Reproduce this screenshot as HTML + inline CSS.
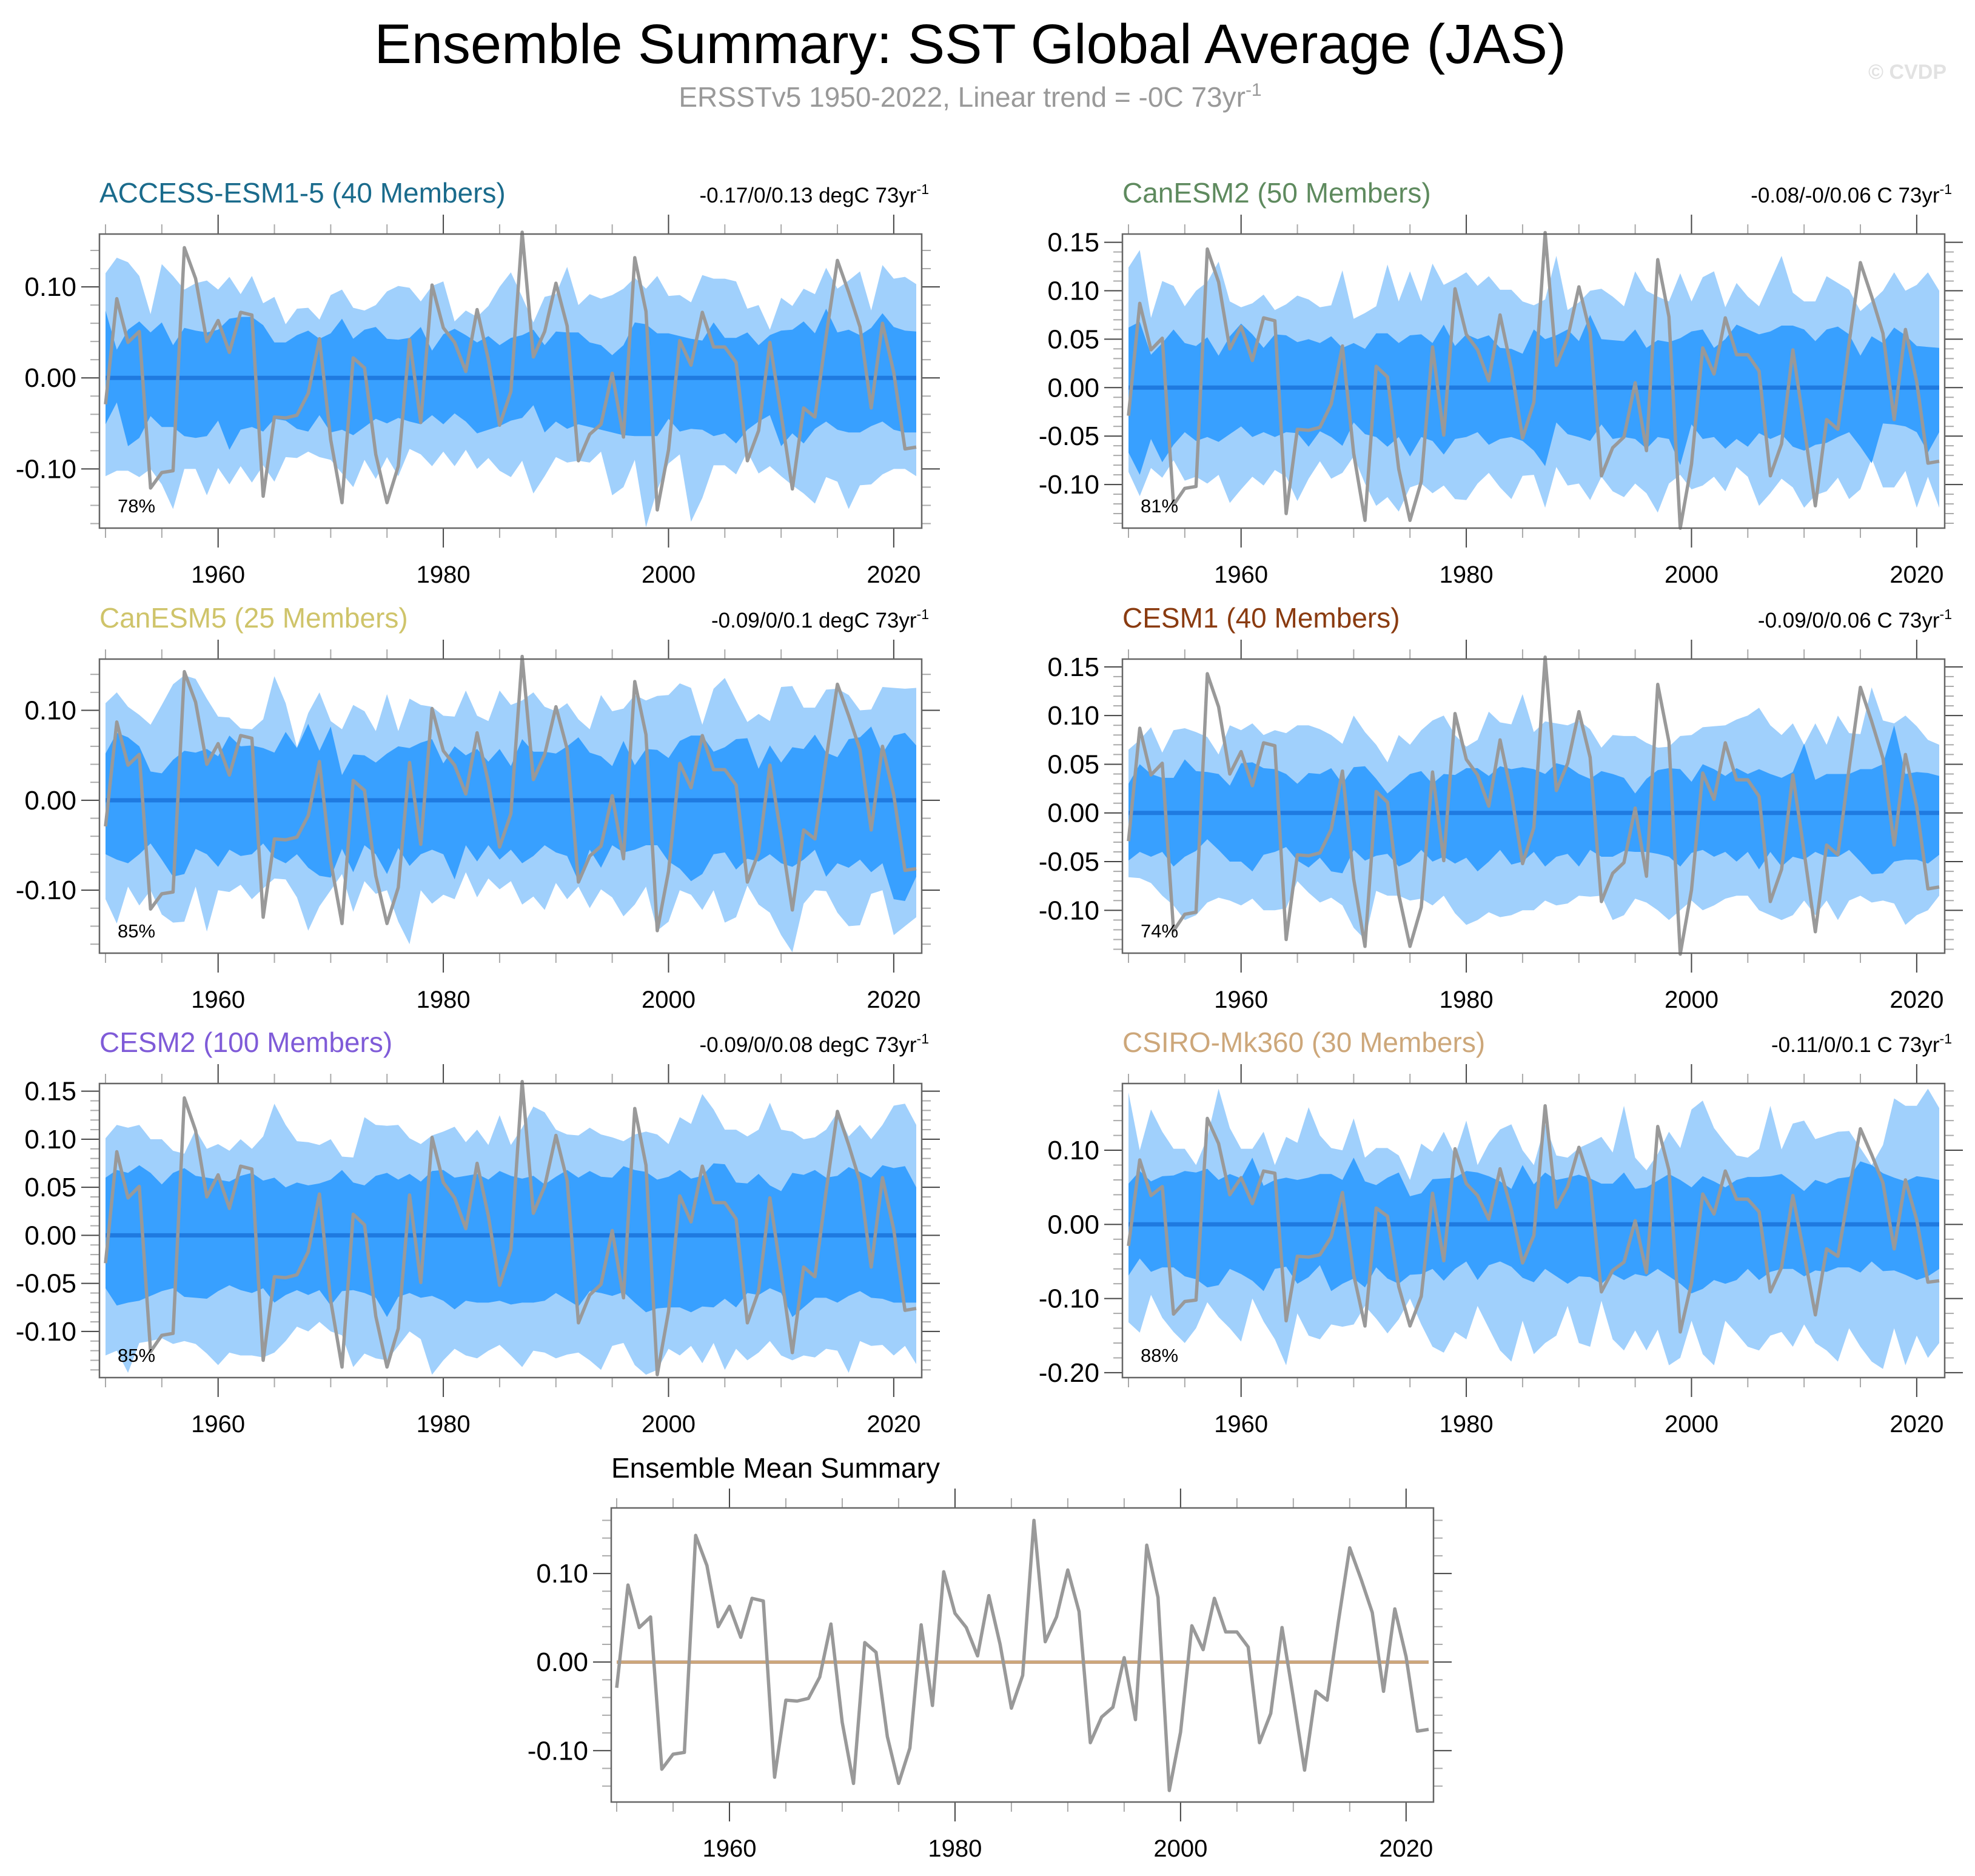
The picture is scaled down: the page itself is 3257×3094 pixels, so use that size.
<!DOCTYPE html>
<html><head><meta charset="utf-8"><title>Ensemble Summary: SST Global Average (JAS)</title>
<style>
html,body{margin:0;padding:0;background:#fff;}
svg{display:block;font-family:"Liberation Sans",Arial,sans-serif;}
</style></head>
<body>
<svg id="chart" xmlns="http://www.w3.org/2000/svg" width="3257" height="3094" viewBox="0 0 3257 3094">
<rect x="0" y="0" width="3257" height="3094" fill="#fff"/>
<text x="1600" y="104" font-size="92" text-anchor="middle" fill="#000">Ensemble Summary: SST Global Average (JAS)</text>
<text x="1600" y="176" font-size="46" text-anchor="middle" fill="#999">ERSSTv5 1950-2022, Linear trend = -0C 73yr<tspan dy="-18" font-size="30">-1</tspan></text>
<text x="3210" y="130" font-size="34" font-weight="bold" text-anchor="end" fill="#e2e2e2">© CVDP</text>
<g id="panels"></g>
</svg>
<script>
// ---- data ----
const startYear = 1950;
const observed = [-0.029,0.087,0.039,0.051,-0.121,-0.104,-0.102,0.143,0.109,0.040,0.063,0.028,0.072,0.069,-0.130,-0.043,-0.044,-0.041,-0.017,0.043,-0.068,-0.137,0.022,0.011,-0.084,-0.137,-0.097,0.042,-0.049,0.102,0.055,0.039,0.007,0.075,0.020,-0.052,-0.015,0.160,0.023,0.051,0.104,0.057,-0.091,-0.062,-0.051,0.005,-0.065,0.132,0.073,-0.145,-0.079,0.041,0.014,0.072,0.034,0.034,0.017,-0.091,-0.058,0.039,-0.040,-0.122,-0.033,-0.043,0.046,0.129,0.094,0.056,-0.033,0.060,0.006,-0.078,-0.076];
const ensMean = [0,0,0,0,0,0,0,0,0,0,0,0,0,0,0,0,0,0,0,0,0,0,0,0,0,0,0,0,0,0,0,0,0,0,0,0,0,0,0,0,0,0,0,0,0,0,0,0,0,0,0,0,0,0,0,0,0,0,0,0,0,0,0,0,0,0,0,0,0,0,0,0,0];
const xTickLabels = [1960,1980,2000,2020];

const accessLightUpper = [.115,.132,.127,.112,.070,.125,.112,.097,.104,.107,.097,.111,.092,.112,.082,.089,.059,.076,.077,.064,.091,.097,.077,.074,.080,.095,.101,.099,.084,.101,.106,.062,.074,.067,.079,.100,.116,.089,.061,.089,.092,.122,.080,.092,.087,.091,.098,.110,.098,.112,.090,.091,.083,.113,.109,.109,.106,.076,.080,.053,.088,.079,.098,.092,.121,.098,.107,.117,.074,.124,.109,.111,.103];
const accessDarkUpper = [.074,.031,.053,.062,.050,.061,.036,.055,.052,.050,.053,.065,.067,.067,.058,.039,.039,.047,.052,.043,.049,.065,.043,.053,.056,.043,.042,.044,.056,.030,.048,.054,.047,.039,.046,.036,.044,.047,.053,.036,.051,.050,.050,.039,.036,.025,.036,.061,.059,.049,.049,.046,.043,.041,.061,.044,.044,.050,.036,.047,.052,.053,.062,.049,.076,.050,.053,.047,.055,.071,.056,.052,.051];
const accessDarkLower = [-.051,-.027,-.075,-.066,-.042,-.054,-.054,-.064,-.066,-.064,-.047,-.079,-.057,-.054,-.059,-.045,-.047,-.056,-.059,-.041,-.060,-.057,-.063,-.054,-.045,-.050,-.044,-.048,-.051,-.041,-.051,-.039,-.048,-.061,-.057,-.053,-.047,-.044,-.030,-.060,-.048,-.056,-.051,-.054,-.057,-.060,-.063,-.064,-.064,-.064,-.045,-.059,-.056,-.057,-.064,-.061,-.072,-.057,-.048,-.041,-.075,-.061,-.072,-.056,-.048,-.057,-.060,-.060,-.053,-.048,-.057,-.060,-.060];
const accessLightLower = [-.108,-.102,-.102,-.109,-.100,-.117,-.144,-.100,-.100,-.129,-.099,-.117,-.097,-.115,-.096,-.114,-.087,-.088,-.081,-.087,-.090,-.105,-.120,-.090,-.111,-.087,-.108,-.078,-.084,-.097,-.081,-.097,-.079,-.100,-.088,-.102,-.109,-.091,-.127,-.108,-.087,-.093,-.091,-.093,-.081,-.129,-.120,-.090,-.164,-.123,-.094,-.084,-.158,-.132,-.096,-.096,-.106,-.081,-.105,-.097,-.108,-.118,-.127,-.138,-.109,-.114,-.144,-.118,-.117,-.106,-.100,-.100,-.108];

const canesm2LightUpper = [.124,.142,.072,.110,.105,.084,.100,.109,.130,.089,.083,.087,.096,.080,.086,.095,.091,.083,.085,.121,.071,.077,.084,.127,.089,.120,.089,.128,.106,.112,.119,.105,.115,.101,.101,.089,.085,.091,.136,.080,.088,.100,.102,.094,.084,.120,.100,.094,.089,.118,.089,.114,.120,.083,.108,.094,.084,.110,.136,.098,.089,.089,.115,.108,.101,.079,.089,.100,.119,.100,.106,.119,.100];
const canesm2DarkUpper = [.062,.068,.034,.046,.060,.046,.043,.052,.033,.053,.066,.055,.041,.055,.054,.047,.050,.046,.053,.041,.046,.040,.056,.056,.046,.054,.055,.046,.065,.043,.055,.050,.054,.041,.040,.035,.060,.050,.054,.060,.048,.075,.050,.049,.048,.060,.041,.049,.047,.051,.058,.060,.041,.050,.065,.060,.055,.058,.064,.064,.060,.048,.060,.063,.055,.033,.053,.046,.062,.054,.043,.042,.041];
const canesm2DarkLower = [-.067,-.090,-.053,-.077,-.059,-.046,-.055,-.051,-.056,-.048,-.040,-.051,-.046,-.051,-.046,-.047,-.061,-.045,-.051,-.060,-.036,-.048,-.051,-.061,-.051,-.071,-.051,-.055,-.069,-.053,-.051,-.046,-.059,-.053,-.051,-.055,-.065,-.081,-.036,-.048,-.051,-.055,-.038,-.053,-.051,-.053,-.063,-.051,-.053,-.080,-.038,-.053,-.051,-.063,-.053,-.061,-.047,-.053,-.048,-.061,-.065,-.059,-.057,-.051,-.046,-.061,-.078,-.037,-.038,-.040,-.046,-.067,-.046];
const canesm2LightLower = [-.087,-.112,-.083,-.093,-.075,-.096,-.092,-.099,-.090,-.119,-.105,-.092,-.101,-.085,-.092,-.117,-.094,-.076,-.094,-.088,-.071,-.099,-.122,-.113,-.128,-.103,-.099,-.109,-.101,-.115,-.116,-.099,-.088,-.103,-.115,-.091,-.090,-.124,-.082,-.101,-.099,-.116,-.092,-.107,-.113,-.099,-.109,-.129,-.099,-.090,-.105,-.101,-.092,-.107,-.082,-.092,-.122,-.109,-.094,-.103,-.124,-.111,-.107,-.093,-.115,-.105,-.073,-.103,-.103,-.086,-.124,-.092,-.124];

const canesm5LightUpper = [.108,.120,.104,.095,.084,.106,.129,.139,.135,.113,.093,.092,.080,.079,.090,.138,.108,.059,.097,.120,.088,.079,.106,.099,.077,.118,.077,.113,.106,.104,.094,.093,.122,.094,.088,.122,.106,.111,.120,.104,.099,.108,.090,.079,.117,.099,.102,.117,.111,.116,.117,.130,.125,.084,.124,.136,.111,.087,.096,.088,.126,.127,.103,.103,.123,.124,.117,.100,.101,.126,.125,.124,.125];
const canesm5DarkUpper = [.052,.075,.070,.060,.032,.030,.045,.055,.053,.057,.049,.072,.060,.061,.058,.053,.076,.058,.085,.055,.082,.028,.051,.050,.042,.052,.060,.058,.064,.068,.041,.060,.050,.057,.043,.057,.038,.068,.054,.054,.052,.060,.070,.053,.049,.038,.066,.039,.057,.056,.047,.066,.072,.072,.054,.059,.068,.069,.035,.061,.042,.059,.057,.073,.053,.048,.068,.070,.082,.052,.072,.075,.061];
const canesm5DarkLower = [-.060,-.066,-.070,-.060,-.048,-.066,-.085,-.082,-.054,-.060,-.074,-.055,-.062,-.060,-.048,-.064,-.070,-.060,-.075,-.084,-.086,-.054,-.080,-.050,-.060,-.082,-.053,-.073,-.060,-.055,-.060,-.088,-.050,-.068,-.050,-.066,-.055,-.070,-.062,-.050,-.058,-.062,-.090,-.055,-.075,-.050,-.058,-.055,-.050,-.050,-.068,-.076,-.090,-.082,-.060,-.058,-.077,-.065,-.068,-.060,-.070,-.074,-.066,-.055,-.085,-.070,-.075,-.066,-.080,-.070,-.110,-.112,-.085];
const canesm5LightLower = [-.110,-.137,-.096,-.117,-.100,-.127,-.136,-.135,-.096,-.146,-.100,-.102,-.094,-.110,-.098,-.087,-.088,-.108,-.145,-.118,-.100,-.082,-.124,-.090,-.104,-.100,-.135,-.160,-.100,-.115,-.105,-.110,-.080,-.108,-.087,-.099,-.090,-.116,-.107,-.122,-.092,-.110,-.096,-.120,-.099,-.108,-.129,-.116,-.096,-.145,-.135,-.100,-.105,-.122,-.100,-.136,-.130,-.095,-.116,-.125,-.150,-.169,-.115,-.100,-.101,-.125,-.140,-.139,-.104,-.100,-.150,-.140,-.130];

const cesm1LightUpper = [.065,.075,.088,.062,.085,.087,.083,.078,.060,.090,.085,.092,.080,.085,.082,.090,.090,.086,.080,.071,.100,.083,.070,.052,.080,.070,.085,.095,.100,.080,.068,.075,.104,.093,.091,.122,.083,.094,.092,.090,.095,.086,.067,.080,.079,.079,.072,.067,.068,.079,.080,.088,.089,.090,.096,.100,.108,.090,.080,.092,.070,.092,.070,.100,.082,.081,.129,.095,.092,.100,.089,.075,.070];
const cesm1DarkUpper = [.030,.050,.040,.036,.036,.055,.043,.042,.040,.028,.051,.052,.046,.045,.040,.030,.041,.040,.046,.030,.047,.048,.035,.020,.030,.040,.043,.030,.040,.039,.046,.046,.038,.048,.045,.047,.045,.040,.051,.048,.040,.035,.043,.040,.036,.020,.035,.044,.046,.045,.032,.050,.045,.038,.046,.040,.045,.040,.036,.042,.071,.034,.040,.040,.040,.045,.045,.050,.090,.040,.042,.041,.038];
const cesm1DarkLower = [-.049,-.040,-.045,-.040,-.055,-.045,-.039,-.027,-.038,-.050,-.050,-.060,-.043,-.040,-.035,-.049,-.056,-.046,-.060,-.062,-.038,-.049,-.044,-.042,-.055,-.050,-.038,-.050,-.045,-.052,-.046,-.060,-.050,-.038,-.053,-.050,-.040,-.055,-.045,-.042,-.055,-.038,-.045,-.045,-.039,-.040,-.040,-.042,-.045,-.055,-.041,-.038,-.045,-.040,-.050,-.040,-.058,-.040,-.055,-.045,-.048,-.040,-.045,-.045,-.038,-.050,-.063,-.062,-.050,-.048,-.048,-.052,-.043];
const cesm1LightLower = [-.066,-.067,-.072,-.085,-.095,-.110,-.105,-.092,-.087,-.090,-.095,-.088,-.100,-.100,-.098,-.070,-.082,-.092,-.087,-.095,-.118,-.130,-.080,-.085,-.085,-.090,-.088,-.095,-.085,-.103,-.115,-.110,-.102,-.107,-.105,-.100,-.100,-.090,-.095,-.093,-.085,-.086,-.085,-.110,-.105,-.088,-.092,-.100,-.110,-.100,-.090,-.100,-.095,-.088,-.085,-.085,-.100,-.105,-.110,-.105,-.090,-.105,-.090,-.110,-.090,-.085,-.092,-.090,-.093,-.115,-.105,-.100,-.085];

const cesm2LightUpper = [.101,.115,.112,.115,.100,.100,.088,.085,.110,.090,.095,.088,.100,.090,.103,.137,.115,.098,.097,.094,.100,.082,.081,.123,.115,.114,.115,.101,.095,.104,.108,.113,.097,.110,.094,.125,.094,.112,.134,.128,.110,.105,.104,.112,.105,.102,.098,.105,.108,.105,.095,.123,.116,.147,.131,.110,.110,.103,.110,.138,.110,.108,.100,.102,.110,.128,.103,.115,.100,.115,.135,.137,.115];
const cesm2DarkUpper = [.060,.068,.065,.073,.065,.053,.065,.070,.062,.060,.058,.056,.062,.065,.057,.060,.050,.055,.052,.054,.058,.068,.055,.052,.062,.065,.058,.064,.056,.067,.068,.060,.062,.064,.058,.067,.062,.059,.062,.053,.061,.068,.060,.067,.061,.060,.072,.068,.066,.058,.061,.068,.059,.062,.075,.074,.055,.054,.064,.052,.046,.065,.063,.068,.060,.062,.071,.066,.060,.073,.070,.072,.050];
const cesm2DarkLower = [-.055,-.073,-.070,-.068,-.063,-.058,-.055,-.064,-.065,-.066,-.058,-.052,-.057,-.060,-.055,-.070,-.062,-.057,-.062,-.057,-.073,-.058,-.057,-.060,-.065,-.085,-.064,-.060,-.065,-.063,-.068,-.077,-.068,-.070,-.070,-.068,-.072,-.070,-.070,-.068,-.060,-.067,-.074,-.058,-.060,-.063,-.059,-.070,-.080,-.076,-.075,-.075,-.080,-.074,-.075,-.066,-.075,-.060,-.062,-.055,-.060,-.085,-.075,-.065,-.065,-.070,-.063,-.058,-.065,-.066,-.070,-.070,-.070];
const cesm2LightLower = [-.125,-.120,-.143,-.112,-.110,-.107,-.113,-.110,-.113,-.123,-.135,-.122,-.125,-.125,-.127,-.122,-.110,-.095,-.100,-.090,-.100,-.104,-.137,-.123,-.128,-.130,-.115,-.100,-.108,-.145,-.130,-.118,-.125,-.128,-.120,-.114,-.125,-.137,-.120,-.122,-.128,-.124,-.122,-.130,-.140,-.115,-.112,-.135,-.145,-.140,-.118,-.125,-.115,-.133,-.112,-.140,-.118,-.130,-.122,-.110,-.125,-.130,-.125,-.127,-.118,-.120,-.143,-.110,-.115,-.114,-.125,-.115,-.134];

const csiroLightUpper = [.178,.100,.155,.125,.102,.102,.080,.117,.183,.130,.102,.102,.125,.080,.118,.110,.158,.120,.103,.100,.143,.090,.103,.103,.093,.060,.109,.098,.125,.093,.140,.080,.109,.128,.135,.100,.080,.135,.093,.090,.103,.110,.118,.097,.160,.090,.073,.095,.125,.103,.155,.167,.130,.110,.093,.090,.102,.160,.101,.136,.140,.115,.120,.125,.126,.103,.080,.107,.170,.160,.160,.183,.157];
const csiroDarkUpper = [.055,.072,.058,.065,.066,.072,.070,.075,.060,.068,.062,.090,.052,.060,.063,.060,.063,.068,.068,.060,.090,.058,.053,.063,.070,.038,.042,.061,.062,.063,.072,.070,.065,.058,.048,.080,.054,.070,.060,.063,.067,.062,.055,.055,.070,.048,.050,.059,.068,.060,.050,.065,.058,.050,.060,.064,.064,.065,.068,.057,.045,.060,.055,.062,.064,.085,.080,.069,.063,.058,.065,.063,.060];
const csiroDarkLower = [-.069,-.046,-.064,-.058,-.058,-.070,-.074,-.085,-.082,-.060,-.067,-.076,-.090,-.060,-.057,-.080,-.071,-.055,-.090,-.080,-.073,-.085,-.058,-.073,-.080,-.068,-.067,-.060,-.076,-.060,-.050,-.075,-.055,-.050,-.057,-.072,-.078,-.060,-.070,-.080,-.070,-.071,-.080,-.067,-.075,-.067,-.070,-.060,-.070,-.080,-.093,-.087,-.075,-.080,-.075,-.060,-.075,-.064,-.060,-.060,-.070,-.062,-.064,-.058,-.058,-.065,-.050,-.063,-.062,-.068,-.075,-.070,-.060];
const csiroLightLower = [-.132,-.146,-.095,-.126,-.145,-.160,-.140,-.105,-.125,-.140,-.158,-.100,-.131,-.155,-.190,-.120,-.150,-.155,-.135,-.138,-.135,-.110,-.127,-.147,-.128,-.100,-.135,-.165,-.173,-.145,-.155,-.110,-.140,-.170,-.185,-.130,-.175,-.160,-.150,-.110,-.160,-.165,-.103,-.155,-.170,-.143,-.170,-.142,-.190,-.180,-.130,-.175,-.190,-.130,-.147,-.165,-.170,-.150,-.145,-.165,-.135,-.160,-.170,-.185,-.140,-.165,-.185,-.195,-.140,-.190,-.150,-.180,-.160];

const modelNames = ["ACCESS-ESM1-5 (40 Members)","CanESM2 (50 Members)","CanESM5 (25 Members)","CESM1 (40 Members)","CESM2 (100 Members)","CSIRO-Mk360 (30 Members)"];
const modelColors = ["#1a6b8c","#5e8a5e","#cfc46a","#8a3b10","#7f5bd8","#cda77a"];
const trendLabels = ["-0.17/0/0.13 degC 73yr","-0.08/-0/0.06 C 73yr","-0.09/0/0.1 degC 73yr","-0.09/0/0.06 C 73yr","-0.09/0/0.08 degC 73yr","-0.11/0/0.1 C 73yr"];
const pctLabels = ["78%","81%","85%","74%","85%","88%"];
const yTicksA = [-0.10,0.00,0.10];
const yTicksB = [-0.10,-0.05,0.00,0.05,0.10,0.15];
const yTicksC = [-0.20,-0.10,0.00,0.10];

// ---- layout ----
const NS = "http://www.w3.org/2000/svg";
const root = document.getElementById("panels");
function el(tag, attrs, parent){ const e=document.createElementNS(NS,tag); for(const k in attrs) e.setAttribute(k,attrs[k]); (parent||root).appendChild(e); return e; }

const panels = [
 {bx:164, by:386, ymin:-0.165, ymax:0.158, ticks:yTicksA, minor:0.02, bands:[accessLightUpper,accessDarkUpper,accessDarkLower,accessLightLower]},
 {bx:1851, by:386, ymin:-0.145, ymax:0.1585, ticks:yTicksB, minor:0.01, bands:[canesm2LightUpper,canesm2DarkUpper,canesm2DarkLower,canesm2LightLower]},
 {bx:164, by:1087, ymin:-0.170, ymax:0.157, ticks:yTicksA, minor:0.02, bands:[canesm5LightUpper,canesm5DarkUpper,canesm5DarkLower,canesm5LightLower]},
 {bx:1851, by:1087, ymin:-0.144, ymax:0.158, ticks:yTicksB, minor:0.01, bands:[cesm1LightUpper,cesm1DarkUpper,cesm1DarkLower,cesm1LightLower]},
 {bx:164, by:1787, ymin:-0.148, ymax:0.158, ticks:yTicksB, minor:0.01, bands:[cesm2LightUpper,cesm2DarkUpper,cesm2DarkLower,cesm2LightLower]},
 {bx:1851, by:1787, ymin:-0.2066, ymax:0.190, ticks:yTicksC, minor:0.02, bands:[csiroLightUpper,csiroDarkUpper,csiroDarkLower,csiroLightLower]}
];
const BW = 1356, BH = 485;

function makeAxes(g, bx, by, xs, ys, ymin, ymax, ticks, minor){
  const nmin = Math.ceil(ymin/minor-1e-6), nmax = Math.floor(ymax/minor+1e-6);
  for(let k=nmin;k<=nmax;k++){
    const v=k*minor, y=ys(v);
    const isMajor = ticks.some(t=>Math.abs(t-v)<1e-6);
    const len = isMajor?30:15;
    const c = isMajor?"#444":"#aaa";
    const t1 = el("line",{x1:bx-len,x2:bx,y1:y,y2:y,stroke:c,"stroke-width":2},g);
    
    
    const t2 = el("line",{x1:bx+BW,x2:bx+BW+len,y1:y,y2:y,stroke:c,"stroke-width":2},g);
    
    
  }
  ticks.forEach(v=>{
    const t = el("text",{x:bx-38,y:ys(v)+15,"font-size":44,"text-anchor":"end",fill:"#000"},g);
    t.textContent = v.toFixed(2);
    
    
  });
  for(let yr=1950; yr<=2020; yr+=5){
    const x=xs(yr), isMajor = yr%20===0;
    const len = isMajor?32:16, c = isMajor?"#444":"#aaa";
    const a = el("line",{x1:x,x2:x,y1:by-len,y2:by,stroke:c,"stroke-width":2},g);
    
    
    const b = el("line",{x1:x,x2:x,y1:by+BH,y2:by+BH+len,stroke:c,"stroke-width":2},g);
    
    
  }
  xTickLabels.forEach(yr=>{
    const t = el("text",{x:xs(yr),y:by+BH+90,"font-size":40,"text-anchor":"middle",fill:"#000"},g);
    t.textContent = yr;
    
    
  });
  const frame = el("rect",{x:bx,y:by,width:BW,height:BH,fill:"none",stroke:"#666","stroke-width":2.5},g);
  
  
}

function linePath(arr, xs, ys){ return arr.map((v,i)=>(i?"L":"M")+xs(startYear+i).toFixed(1)+","+ys(v).toFixed(1)).join(""); }
function bandPath(up, lo, xs, ys){
  const n=Math.min(up.length, lo.length); let d="";
  for(let i=0;i<n;i++) d+=(i?"L":"M")+xs(startYear+i).toFixed(1)+","+ys(up[i]).toFixed(1);
  for(let i=n-1;i>=0;i--) d+="L"+xs(startYear+i).toFixed(1)+","+ys(lo[i]).toFixed(1);
  return d+"Z";
}

panels.forEach((p,idx)=>{
  const g = el("g",{});
  
  
  const x0 = p.bx+10, x1 = p.bx+1347;
  const xs = yr => x0 + (yr-1950)*(x1-x0)/72;
  const ys = v => p.by + (p.ymax - v)/(p.ymax - p.ymin)*BH;
  const clipId = "clip"+idx;
  const cp = el("clipPath",{id:clipId},g); el("rect",{x:p.bx,y:p.by,width:BW,height:BH},cp);
  const pg = el("g",{"clip-path":"url(#"+clipId+")"},g);
  const lb = el("path",{d:bandPath(p.bands[0],p.bands[3],xs,ys),fill:"#a0d0fc"},pg);
  
  
  const db = el("path",{d:bandPath(p.bands[1],p.bands[2],xs,ys),fill:"#38a0ff"},pg);
  
  
  const ml = el("path",{d:linePath(ensMean,xs,ys),fill:"none",stroke:"#1f7ae0","stroke-width":7},pg);
  
  
  const ol = el("path",{d:linePath(observed,xs,ys),fill:"none",stroke:"#999","stroke-width":5.5,"stroke-linejoin":"round"},g);
  
  
  makeAxes(g,p.bx,p.by,xs,ys,p.ymin,p.ymax,p.ticks,p.minor);
  const tt = el("text",{x:p.bx,y:p.by-52,"font-size":46,fill:modelColors[idx]},g);
  tt.textContent = modelNames[idx];
  
  
  const tr = el("text",{x:p.bx+BW+12,y:p.by-52,"font-size":35,"text-anchor":"end",fill:"#000"},g);
  tr.textContent = trendLabels[idx];
  const sup = el("tspan",{dy:-14,"font-size":23},tr); sup.textContent="-1";
  
  
  const pc = el("text",{x:p.bx+30,y:p.by+BH-26,"font-size":31,fill:"#000"},g);
  pc.textContent = pctLabels[idx];
  
  
});

// ---- ensemble mean summary ----
(function(){
  const bx=1008, by=2487, ymin=-0.158, ymax=0.174;
  const g = el("g",{});
  
  
  const x0=bx+9, x1=bx+1348;
  const xs = yr => x0 + (yr-1950)*(x1-x0)/72;
  const ys = v => by + (ymax - v)/(ymax - ymin)*BH;
  [0,1,2,3,4,5].forEach(k=>{
    const l = el("path",{d:linePath(ensMean,xs,ys),fill:"none",stroke:modelColors[k],"stroke-width":5},g);
    
    
  });
  const ol = el("path",{d:linePath(observed,xs,ys),fill:"none",stroke:"#999","stroke-width":5.5,"stroke-linejoin":"round"},g);
  
  
  makeAxes(g,bx,by,xs,ys,ymin,ymax,yTicksA,0.02);
  const t = el("text",{x:bx,y:by-50,"font-size":46,fill:"#000"},g);
  t.textContent = "Ensemble Mean Summary";
  
  
})();
</script>
</body></html>
